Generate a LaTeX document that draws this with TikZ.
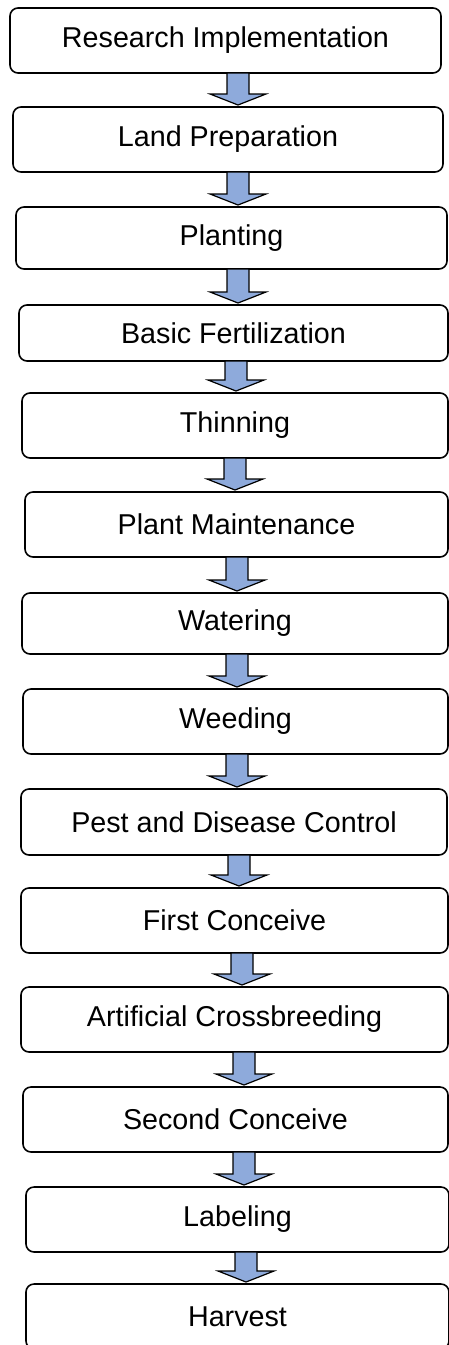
\documentclass[tikz,border=0pt]{standalone}
\usepackage{fontspec}
\setmainfont{Liberation Sans}
\usetikzlibrary{calc}
\definecolor{arrowblue}{RGB}{142,170,219}
\tikzset{
  stepbox/.style={draw=black, line width=1.6pt, rounded corners=8pt, fill=white,
    inner sep=0pt, outer sep=0pt, font=\fontsize{28.7}{34}\selectfont},
  blockarrow/.style={draw=black, fill=arrowblue, line width=1.2pt, line join=miter}
}
% #1 arrow centre x (pt), #2 upper node, #3 lower node
\newcommand{\flowarrow}[3]{%
  \path let \p1=(#2.south), \p2=(#3.north) in
    [blockarrow]
    (#1pt-11pt,\y1) -- (#1pt-11pt,\y2+13pt) -- (#1pt-28pt,\y2+13pt) -- (#1pt,\y2+2pt)
    -- (#1pt+28pt,\y2+13pt) -- (#1pt+11pt,\y2+13pt) -- (#1pt+11pt,\y1) -- cycle;}
% #1 name, #2 left, #3 right, #4 top, #5 bottom, #6 text
\newcommand{\stepnode}[6]{%
  \node[stepbox, minimum width={(#3-#2)*1pt}, minimum height={(#5-#4)*1pt}]
    (#1) at ({(#2+#3)/2},{(#4+#5)/2}) {#6};}
\begin{document}
\begin{tikzpicture}[x=1pt,y=-1pt]
\useasboundingbox (0,0) rectangle (449,1345);
\begin{scope}
\clip (0,0) rectangle (449,1345);
\stepnode{b1}{10}{441}{8}{73}{Research Implementation}
\stepnode{b2}{13}{443}{107}{172}{Land Preparation}
\stepnode{b3}{16}{447}{207}{269}{Planting}
\stepnode{b4}{19}{448}{305}{361}{Basic Fertilization}
\stepnode{b5}{22}{448}{393}{458}{Thinning}
\stepnode{b6}{25}{448}{492}{557}{Plant Maintenance}
\stepnode{b7}{22}{448}{593}{654}{Watering}
\stepnode{b8}{23}{448}{689}{754}{Weeding}
\stepnode{b9}{21}{447}{789}{855}{Pest and Disease Control}
\stepnode{b10}{21}{448}{888}{953}{First Conceive}
\stepnode{b11}{21}{448}{987}{1052}{Artificial Crossbreeding}
\stepnode{b12}{23}{448}{1087}{1152}{Second Conceive}
\stepnode{b13}{26}{449}{1187}{1252}{Labeling}
\stepnode{b14}{26}{449}{1284}{1349}{Harvest}
\flowarrow{238}{b1}{b2}
\flowarrow{238}{b2}{b3}
\flowarrow{238}{b3}{b4}
\flowarrow{236}{b4}{b5}
\flowarrow{235}{b5}{b6}
\flowarrow{237}{b6}{b7}
\flowarrow{237}{b7}{b8}
\flowarrow{237}{b8}{b9}
\flowarrow{239}{b9}{b10}
\flowarrow{242}{b10}{b11}
\flowarrow{244}{b11}{b12}
\flowarrow{244}{b12}{b13}
\flowarrow{246}{b13}{b14}
\end{scope}
\end{tikzpicture}
\end{document}
